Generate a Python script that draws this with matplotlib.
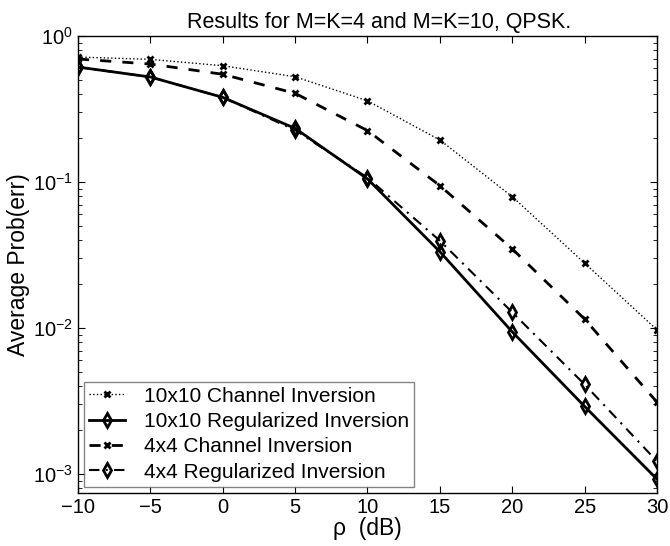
import matplotlib
matplotlib.use("Agg")
import matplotlib.pyplot as plt
from matplotlib.ticker import LogLocator, NullFormatter

plt.rcParams["font.family"] = ["Liberation Sans", "DejaVu Sans"]

rho_db = [-10, -5, 0, 5, 10, 15, 20, 25, 30]

ci_10x10 = [0.718, 0.692, 0.626, 0.526, 0.360, 0.194, 0.0793, 0.0278, 0.0097]
reg_10x10 = [0.613, 0.524, 0.380, 0.233, 0.105, 0.0333, 0.0094, 0.0029, 0.00092]
ci_4x4 = [0.696, 0.643, 0.547, 0.405, 0.225, 0.0944, 0.0348, 0.0115, 0.0031]
reg_4x4 = [0.613, 0.524, 0.380, 0.227, 0.107, 0.0396, 0.0128, 0.0041, 0.00122]

labels = [
    "10x10 Channel Inversion",
    "10x10 Regularized Inversion",
    "4x4 Channel Inversion",
    "4x4 Regularized Inversion",
]

fig = plt.figure(figsize=(6.7, 5.46), dpi=100)
ax = fig.add_axes([0.1164, 0.0971, 0.8642, 0.8369])

ax.semilogy(rho_db, ci_10x10, color="black", linestyle=":", linewidth=1.0,
            marker="x", markersize=5, markeredgewidth=2.0, label=labels[0])
ax.semilogy(rho_db, reg_10x10, color="black", linestyle="-", linewidth=2.0,
            marker="d", markersize=7, markerfacecolor="none", markeredgewidth=2.0,
            label=labels[1])
ax.semilogy(rho_db, ci_4x4, color="black", linestyle="--", linewidth=2.0,
            dashes=(4, 4), marker="x", markersize=5, markeredgewidth=2.0,
            label=labels[2])
ax.semilogy(rho_db, reg_4x4, color="black", linestyle="-.", linewidth=1.5,
            dashes=(5, 3, 1, 3), marker="d", markersize=7, markerfacecolor="none",
            markeredgewidth=2.0, label=labels[3])

ax.set_xlim(-10, 30)
ax.set_ylim(7.4e-4, 1.0)
ax.set_xticks([-10, -5, 0, 5, 10, 15, 20, 25, 30])
ax.set_xticklabels(["\u221210", "\u22125", "0", "5", "10", "15", "20", "25", "30"])
ax.yaxis.set_major_locator(LogLocator(base=10, numticks=10))
ax.yaxis.set_minor_locator(LogLocator(base=10, subs=range(2, 10), numticks=10))
ax.yaxis.set_minor_formatter(NullFormatter())

ax.tick_params(which="both", direction="in", top=True, right=True, labelsize=14.5)
ax.tick_params(which="major", length=5)
ax.tick_params(which="minor", length=3)
for spine in ax.spines.values():
    spine.set_linewidth(1.0)

ax.set_title("Results for M=K=4 and M=K=10, QPSK.", fontsize=15.5, pad=6, x=0.52)
ax.set_xlabel("\u03c1  (dB)", fontsize=16.5, labelpad=0)
ax.set_ylabel("Average Prob(err)", fontsize=16.5, labelpad=2)

leg = ax.legend(loc="lower left", fontsize=15, frameon=True, fancybox=False,
                edgecolor="#666666", borderaxespad=0.3, handlelength=1.7,
                labelspacing=0.3, borderpad=0.25, handletextpad=0.9)
leg.get_frame().set_linewidth(1.0)

fig.savefig("out.png", dpi=100)
plt.close(fig)
